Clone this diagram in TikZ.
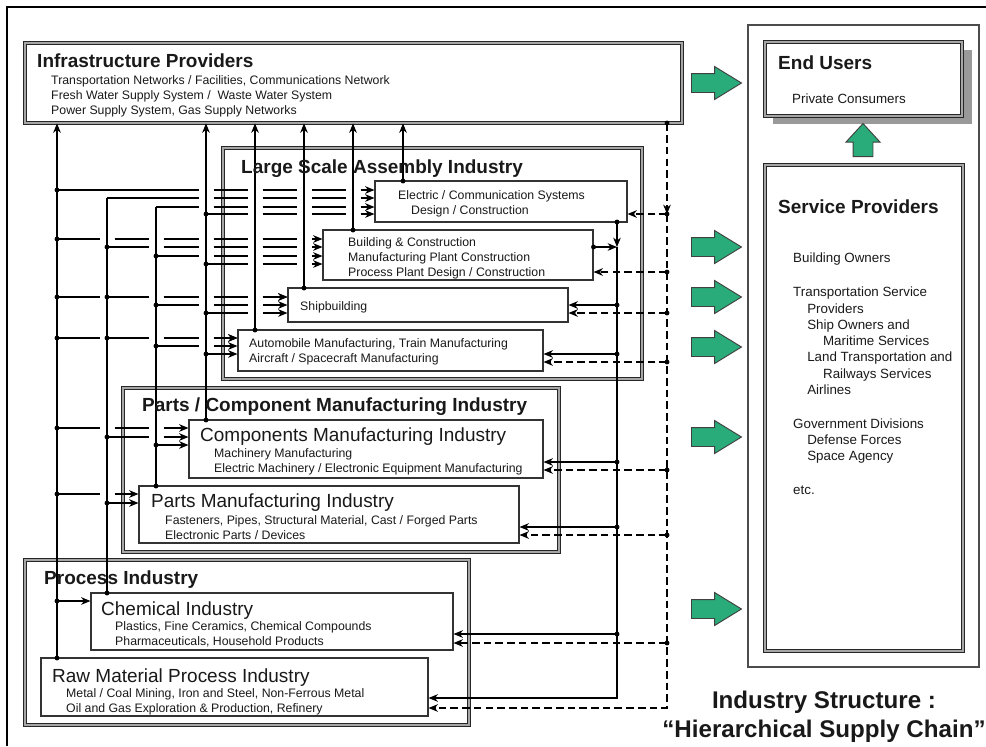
\documentclass[tikz,border=0pt]{standalone}
\usepackage{fontspec}
\setmainfont{Liberation Sans}
\usetikzlibrary{arrows.meta,calc,fit,positioning,shapes.arrows}
\definecolor{arrowgreen}{RGB}{42,172,122}
\newcommand{\grpfont}{\fontsize{16.2}{19}\selectfont\bfseries}
\newcommand{\indfont}{\fontsize{16.2}{19}\selectfont}
\newcommand{\smlfont}{\fontsize{10.5}{12.8}\selectfont}
\newcommand{\svcfont}{\fontsize{11.4}{13.9}\selectfont}
\newcommand{\capfont}{\fontsize{20.6}{24.7}\selectfont\bfseries}
\newcommand{\hopw}{7.5}
% feed line: row y, source bus, buses hopped over, target box
\newcommand{\feed}[4]{%
  \draw[bus,feed] ($(#2)+(0,#1)$)
    \foreach \k in {#3}{ -- ($(b\k)+(-\hopw,#1)$) ($(b\k)+(\hopw,#1)$) }
    -- ($(#4.west |- o)+(0,#1)$);
}

\begin{document}
\begin{tikzpicture}[
  x=0.03cm, y=-0.03cm,
  grp/.style={draw=black!85, double=black!35, double distance=1.5pt, line width=0.7pt, inner sep=0pt},
  ibox/.style={draw=black!80, fill=white, line width=0.9pt, inner sep=0pt},
  txt/.style={anchor=north west, inner sep=0pt, align=left, text=black!90},
  bus/.style={line width=1pt},
  feed/.style={-{Stealth[length=8pt,width=6.5pt,inset=2.5pt]}},
  dline/.style={bus, dash pattern=on 6.5pt off 3.5pt},
  garrow/.style={single arrow, draw=black!75, fill=arrowgreen, line width=0.8pt, anchor=tail,
    inner xsep=0pt, inner ysep=0.27cm, minimum height=1.5cm,
    single arrow head extend=0.21cm, single arrow tip angle=63}
]
\useasboundingbox (0,0) rectangle (986,746);
\draw[line width=1.7pt] (7,746) -- (7,7) -- (986,7);

% group boxes
\node[grp, fit={(25,43) (682,123)}] (infra) {};
\node[grp, fit={(223,148) (642,379)}] (lsa) {};
\node[grp, fit={(123,388) (559,552)}] (pc) {};
\node[grp, fit={(25,560) (469,725)}] (proc) {};

% industries
\node[ibox, fit={(375,181) (627,222)}] (elec) {};
\node[ibox, fit={(323,230) (593,280)}] (bldg) {};
\node[ibox, fit={(288,288) (568,322)}] (ship) {};
\node[ibox, fit={(238,330) (543,371)}] (auto) {};
\node[ibox, fit={(189,420) (543,478)}] (comp) {};
\node[ibox, fit={(139,486) (519,543)}] (parts) {};
\node[ibox, fit={(91,593) (453,650)}] (chem) {};
\node[ibox, fit={(41,658) (428,716)}] (raw) {};

% users side
\node[draw=black!70, line width=1.1pt, inner sep=0pt, fit={(748,25) (979,667)}] (panel) {};
\fill[black!40] (773,50) rectangle (972,124);
\node[grp, fill=white, fit={(765,42) (962,116)}] (endu) {};
\node[grp, fit={(765,165) (963,651)}] (svc) {};

\node[garrow] (ga1) at (691,83) {};
\node[garrow] (ga2) at (691,247) {};
\node[garrow] (ga3) at (691,297) {};
\node[garrow] (ga4) at (691,347) {};
\node[garrow] (ga5) at (691,437) {};
\node[garrow] (ga6) at (691,609) {};
\node[garrow, shape border rotate=90, inner xsep=0.285cm, inner ysep=0pt,
  minimum height=0.99cm, single arrow tip angle=85] (gup) at (863,157) {};

% buses
\coordinate (o) at (0,0);
\foreach \i/\x in {1/57,2/107,3/156,4/206,5/255,6/304,7/353,8/403}
  \coordinate (b\i) at (\x,0);
\coordinate (rs) at (617,0);
\coordinate (rd) at (667,0);

\draw[bus,feed] (raw.north -| b1) -- (infra.south -| b1);
\draw[bus] (chem.north -| b2) -- ($(b2)+(0,198)$);
\draw[bus] (parts.north -| b3) -- ($(b3)+(0,207)$);
\draw[bus,feed] (comp.north -| b4) -- (infra.south -| b4);
\draw[bus,feed] (auto.north -| b5) -- (infra.south -| b5);
\draw[bus,feed] (ship.north -| b6) -- (infra.south -| b6);
\draw[bus,feed] (bldg.north -| b7) -- (infra.south -| b7);
\draw[bus,feed] (elec.north -| b8) -- (infra.south -| b8);

% into electric / communication
\feed{190}{b1}{4,5,6,7}{elec}
\feed{198}{b2}{4,5,6,7}{elec}
\feed{207}{b3}{4,5,6,7}{elec}
\feed{214}{b4}{5,6,7}{elec}
% into building
\feed{239}{b1}{2,...,6}{bldg}
\feed{247}{b2}{3,...,6}{bldg}
\feed{256}{b3}{4,5,6}{bldg}
\feed{264}{b4}{5,6}{bldg}
% into shipbuilding
\feed{297}{b1}{2,...,5}{ship}
\feed{297}{b2}{3,4,5}{ship}
\feed{305}{b3}{4,5}{ship}
\feed{313}{b4}{5}{ship}
% into automobile
\feed{338}{b1}{2,3,4}{auto}
\feed{338}{b2}{3,4}{auto}
\feed{346}{b3}{4}{auto}
\draw[bus,feed] ($(b4)+(0,354)$) -- ($(auto.west |- o)+(0,354)$);
% into components and parts
\feed{428}{b1}{2,3}{comp}
\feed{437}{b2}{3}{comp}
\draw[bus,feed] ($(b3)+(0,445)$) -- ($(comp.west |- o)+(0,445)$);
\feed{494}{b1}{2}{parts}
\draw[bus,feed] ($(b2)+(0,503)$) -- ($(parts.west |- o)+(0,503)$);
\draw[bus,feed] ($(b1)+(0,601)$) -- ($(chem.west |- o)+(0,601)$);

% construction line (right, solid)
\draw[bus,feed] (elec.south -| rs) -- ($(rs)+(0,247)$);
\draw[bus,feed] ($(bldg.east |- o)+(0,247)$) -- ($(rs)+(0,247)$);
\draw[bus,feed] ($(rs)+(0,247)$) -- ($(rs)+(0,698)$) -- ($(raw.east |- o)+(0,698)$);
\draw[bus,feed] ($(rs)+(0,305)$) -- ($(ship.east |- o)+(0,305)$);
\draw[bus,feed] ($(rs)+(0,354)$) -- ($(auto.east |- o)+(0,354)$);
\draw[bus,feed] ($(rs)+(0,462)$) -- ($(comp.east |- o)+(0,462)$);
\draw[bus,feed] ($(rs)+(0,527)$) -- ($(parts.east |- o)+(0,527)$);
\draw[bus,feed] ($(rs)+(0,634)$) -- ($(chem.east |- o)+(0,634)$);

% infrastructure line (right, dashed)
\draw[dline,feed] (infra.south -| rd) -- ($(rd)+(0,214)$);
\draw[dline,feed] ($(rd)+(0,214)$) -- ($(rd)+(0,708)$) -- ($(raw.east |- o)+(0,708)$);
\draw[dline,feed] ($(rd)+(0,214)$) -- ($(elec.east |- o)+(0,214)$);
\draw[dline,feed] ($(rd)+(0,272)$) -- ($(bldg.east |- o)+(0,272)$);
\draw[dline,feed] ($(rd)+(0,313)$) -- ($(ship.east |- o)+(0,313)$);
\draw[dline,feed] ($(rd)+(0,362)$) -- ($(auto.east |- o)+(0,362)$);
\draw[dline,feed] ($(rd)+(0,470)$) -- ($(comp.east |- o)+(0,470)$);
\draw[dline,feed] ($(rd)+(0,535)$) -- ($(parts.east |- o)+(0,535)$);
\draw[dline,feed] ($(rd)+(0,643)$) -- ($(chem.east |- o)+(0,643)$);

% junction dots
\foreach \b/\y in {1/190,1/239,1/297,1/338,1/428,1/494,1/601,1/658,
    2/247,2/297,2/338,2/437,2/503,2/593, 3/256,3/305,3/346,3/445,3/486,
    4/214,4/264,4/313,4/354,4/420, 5/330,6/288,7/230,8/181}
  \fill ($(b\b)+(0,\y)$) circle (2.1pt);
\foreach \y in {222,305,354,462,527,634}
  \fill ($(rs)+(0,\y)$) circle (2.1pt);
\foreach \y in {123,214,272,313,362,470,535,643}
  \fill ($(rd)+(0,\y)$) circle (2.1pt);
\fill ($(bldg.east |- o)+(0,247)$) circle (2.1pt);

% texts
\node[txt, font=\grpfont] (infra-t) at (37,54) {Infrastructure Providers};
\node[txt, font=\smlfont] (infra-b) at (51,75.6) {Transportation Networks / Facilities, Communications Network\\
  Fresh Water Supply System /~~Waste Water System\\Power Supply System, Gas Supply Networks};
\node[txt, font=\grpfont] (lsa-t) at (241,160) {Large Scale Assembly Industry};
\node[txt, font=\smlfont] (elec-b) at (398,190.6) {Electric / Communication Systems\\\hspace*{11pt}Design / Construction};
\node[txt, font=\smlfont] (bldg-b) at (348,237.6) {Building \& Construction\\Manufacturing Plant Construction\\Process Plant Design / Construction};
\node[txt, font=\smlfont] (ship-b) at (300,301.6) {Shipbuilding};
\node[txt, font=\smlfont] (auto-b) at (249,338.6) {Automobile Manufacturing, Train Manufacturing\\Aircraft / Spacecraft Manufacturing};
\node[txt, font=\grpfont] (pc-t) at (142,398) {Parts / Component Manufacturing Industry};
\node[txt, font=\indfont] (comp-t) at (200,428) {Components Manufacturing Industry};
\node[txt, font=\smlfont] (comp-b) at (214,448.6) {Machinery Manufacturing\\Electric Machinery / Electronic Equipment Manufacturing};
\node[txt, font=\indfont] (parts-t) at (151,494) {Parts Manufacturing Industry};
\node[txt, font=\smlfont] (parts-b) at (165,515.6) {Fasteners, Pipes, Structural Material, Cast / Forged Parts\\Electronic Parts / Devices};
\node[txt, font=\grpfont] (proc-t) at (44,571) {Process Industry};
\node[txt, font=\indfont] (chem-t) at (101,601) {Chemical Industry};
\node[txt, font=\smlfont] (chem-b) at (115,621.6) {Plastics, Fine Ceramics, Chemical Compounds\\Pharmaceuticals, Household Products};
\node[txt, font=\indfont] (raw-t) at (52,668) {Raw Material Process Industry};
\node[txt, font=\smlfont] (raw-b) at (66,688.6) {Metal / Coal Mining, Iron and Steel, Non-Ferrous Metal\\Oil and Gas Exploration \& Production, Refinery};

\node[txt, font=\grpfont] (endu-t) at (778,56) {End Users};
\node[txt, font=\svcfont] (endu-b) at (792,94) {Private Consumers};
\node[txt, font=\grpfont] (svc-t) at (778,200) {Service Providers};
\node[txt, font=\svcfont] (svc-b) at (793,253) {Building Owners\\[15pt]
  Transportation Service\\
  \hspace*{12pt}Providers\\
  \hspace*{12pt}Ship Owners and\\
  \hspace*{25.5pt}Maritime Services\\
  \hspace*{12pt}Land Transportation and\\
  \hspace*{25.5pt}Railways Services\\
  \hspace*{12pt}Airlines\\[15pt]
  Government Divisions\\
  \hspace*{12pt}Defense Forces\\
  \hspace*{12pt}Space Agency\\[15pt]
  etc.};

\node[anchor=north, align=center, inner sep=0pt, font=\capfont, text=black!90] (caption) at (824,691)
  {Industry Structure :\\“Hierarchical Supply Chain”};
\end{tikzpicture}
\end{document}
